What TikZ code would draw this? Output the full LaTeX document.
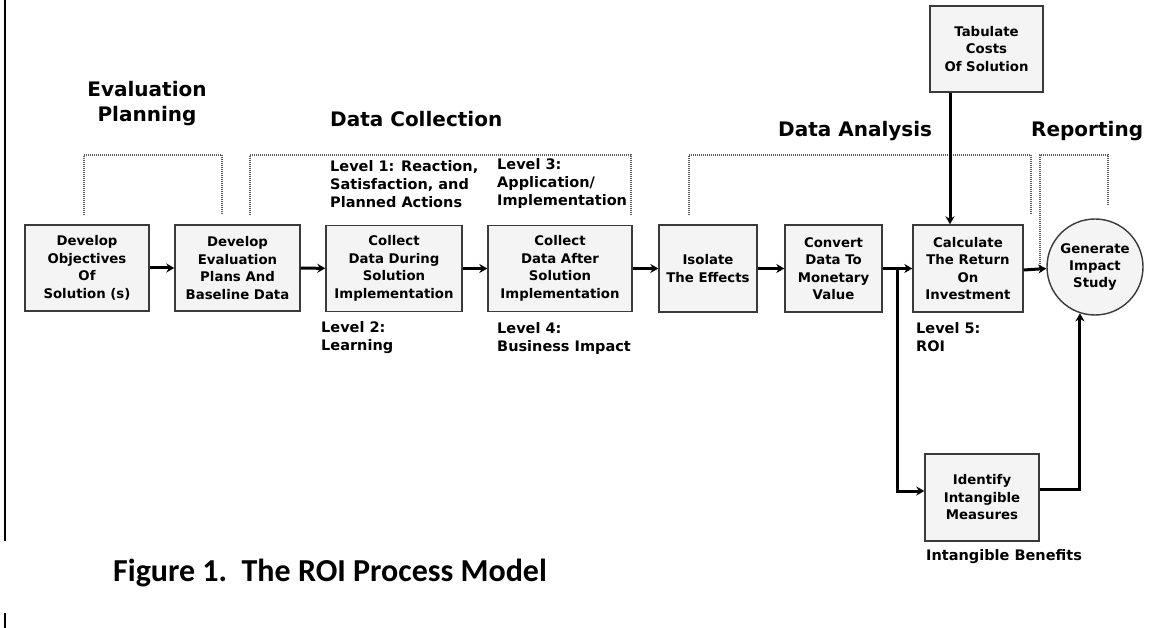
\documentclass[tikz,border=0pt]{standalone}
\usepackage{fontspec}
\setmainfont{DejaVu Sans}
\newfontfamily\capfont{Carlito}
\usetikzlibrary{arrows.meta}
\definecolor{boxfill}{HTML}{F4F4F4}
\definecolor{boxline}{HTML}{3A3A3A}
\definecolor{dotgray}{HTML}{5A5A5A}
\begin{document}
\begin{tikzpicture}[x=1pt,y=-1pt,
  proc/.style={draw=boxline, line width=1.4pt, fill=boxfill, align=center, inner sep=0pt,
    font=\fontsize{13.3}{17.5}\selectfont\bfseries},
  flow/.style={line width=3pt, -{Stealth[length=8pt,width=9pt]}},
  bracket/.style={draw=dotgray, line width=1.4pt, dash pattern=on 1pt off 1pt},
  lvl/.style={anchor=north west, inner sep=0pt, align=left, font=\fontsize{14.5}{18}\selectfont\bfseries},
  head/.style={anchor=north west, inner sep=0pt, font=\fontsize{20}{25}\selectfont\bfseries}]
\useasboundingbox (0,0) rectangle (1167,628);
\fill[white] (0,0) rectangle (1167,628);

% left margin rule
\coordinate (r1) at (5,0); \coordinate (r2) at (5,541);
\coordinate (r3) at (5,613); \coordinate (r4) at (5,628);
\draw[line width=2pt] (r1) -- (r2);
\draw[line width=2pt] (r3) -- (r4);

% process boxes
\node[proc, minimum width=124, minimum height=86] (b1) at (87,268) {Develop\\Objectives\\Of\\Solution (s)};
\node[proc, minimum width=125, minimum height=86] (b2) at (237.5,268) {Develop\\Evaluation\\Plans And\\Baseline Data};
\node[proc, minimum width=136, minimum height=86] (b3) at (394,268.5) {Collect\\Data During\\Solution\\Implementation};
\node[proc, minimum width=144, minimum height=86] (b4) at (560,268.5) {Collect\\Data After\\Solution\\Implementation};
\node[proc, minimum width=98, minimum height=87] (b5) at (708,268.5) {Isolate\\The Effects};
\node[proc, minimum width=97, minimum height=87] (b6) at (833.5,268.5) {Convert\\Data To\\Monetary\\Value};
\node[proc, minimum width=110, minimum height=87] (b7) at (968,268.5) {Calculate\\The Return\\On\\Investment};
\node[proc, minimum width=113, minimum height=86] (tab) at (986.5,49) {Tabulate\\Costs\\Of Solution};
\node[proc, minimum width=114, minimum height=87] (idn) at (982,497.5) {Identify\\Intangible\\Measures};
\node[proc, circle, minimum size=96] (circ) at (1095,267) {Generate\\Impact\\Study};

% dotted brackets
\coordinate (e1) at (84,215); \coordinate (e2) at (84,155); \coordinate (e3) at (222,155); \coordinate (e4) at (222,215);
\draw[bracket] (e1) -- (e2) -- (e3) -- (e4);
\coordinate (c1) at (250,215); \coordinate (c2) at (250,155); \coordinate (c3) at (631,155); \coordinate (c4) at (631,215);
\draw[bracket] (c1) -- (c2) -- (c3) -- (c4);
\coordinate (a1) at (689,215); \coordinate (a2) at (689,155); \coordinate (a3) at (1031,155); \coordinate (a4) at (1031,215);
\draw[bracket] (a1) -- (a2) -- (a3) -- (a4);
\coordinate (p1) at (1040,268); \coordinate (p2) at (1040,155); \coordinate (p3) at (1108,155); \coordinate (p4) at (1108,206);
\draw[bracket] (p1) -- (p2) -- (p3) -- (p4);

% flow arrows
\draw[flow] (b1) -- (b2);
\draw[flow] (b2) -- (b3);
\draw[flow] (b3) -- (b4);
\draw[flow] (b4) -- (b5);
\draw[flow] (b5) -- (b6);
\draw[flow] (b6) -- (b7);
\draw[flow] ([yshift=-1.5pt]b7.east) -- ([yshift=-1.5pt]circ.west);
\draw[flow] (tab.south -| 950,0) coordinate (t1) -- (t1 |- b7.north);
\coordinate (br) at (897,268.5);
\draw[flow] (br) |- ([yshift=6.5pt]idn.west);
\draw[flow] ([yshift=8.5pt]idn.east) -| (circ.252);

% headings
\node[anchor=north, inner sep=0pt, align=center, font=\fontsize{20}{25}\selectfont\bfseries] (hep) at (147,81.5) {Evaluation\\Planning};
\node[head] (hdc) at (330,111.5) {Data Collection};
\node[head] (hda) at (778,121.5) {Data Analysis};
\node[head] (hrp) at (1031,121.5) {Reporting};

% level labels
\node[lvl] (l1) at (330,160.5) {Level 1: Reaction,\\Satisfaction, and\\Planned Actions};
\node[lvl] (l3) at (497,158.5) {Level 3:\\Application/\\Implementation};
\node[lvl] (l2) at (321,321.5) {Level 2:\\Learning};
\node[lvl] (l4) at (497,322.5) {Level 4:\\Business Impact};
\node[lvl] (l5) at (916,322.5) {Level 5:\\ROI};
\node[lvl] (ib) at (926,549.5) {Intangible Benefits};

% caption
\node[anchor=north west, inner sep=0pt, font=\capfont\bfseries\fontsize{32}{38}\selectfont] (cap) at (113,558.5) {Figure 1.\ \ The ROI Process Model};
\end{tikzpicture}
\end{document}
